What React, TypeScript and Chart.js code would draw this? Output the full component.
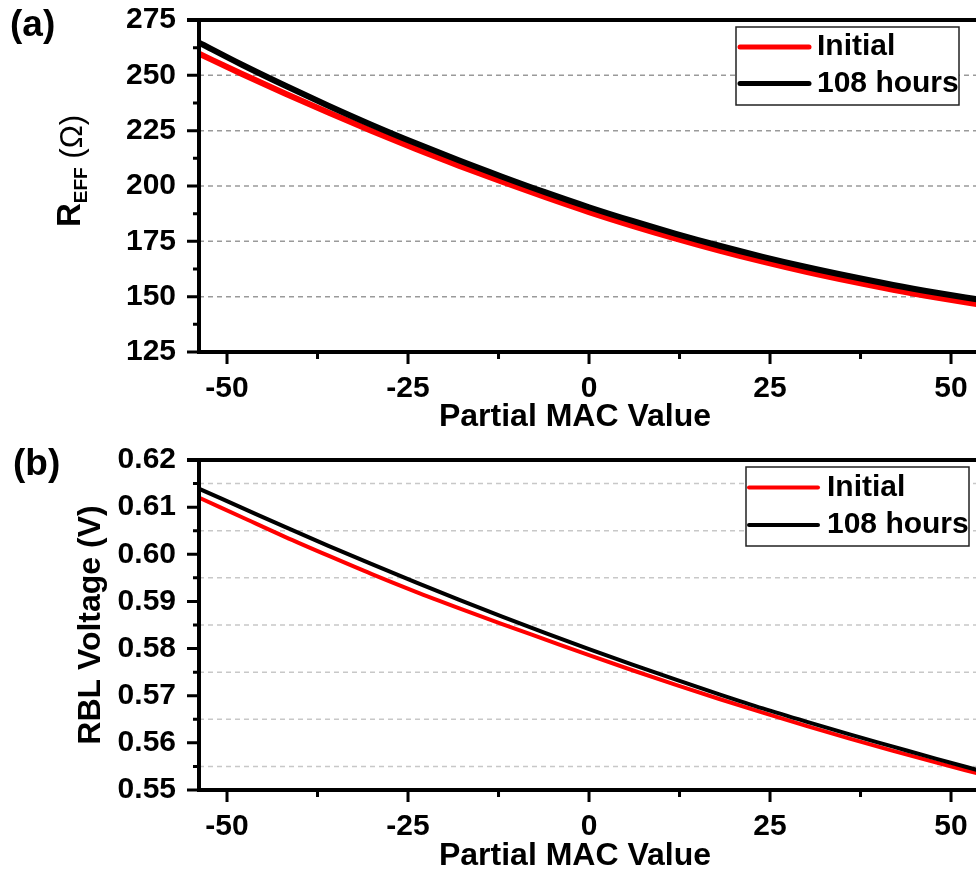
import { useEffect, useRef } from 'react';
import { Chart, registerables } from 'chart.js';

Chart.register(...registerables);

// ---- data ----
const macValues = [-54, -48, -42, -36, -30, -24, -18, -12, -6, 0, 6, 12, 18, 24, 30, 36, 42, 48, 54];
const reffInitial = [260.0, 250.7, 241.8, 233.2, 224.8, 216.8, 209.2, 201.9, 194.9, 188.2, 182.0, 176.2, 170.8, 165.8, 161.2, 157.0, 153.1, 149.6, 146.4];
const reff108 = [265.0, 254.9, 245.4, 236.3, 227.6, 219.4, 211.6, 204.2, 197.1, 190.4, 184.2, 178.4, 173.0, 168.0, 163.4, 159.2, 155.3, 151.8, 148.6];
const rblInitial = [0.6121, 0.6079, 0.6037, 0.5997, 0.5958, 0.5921, 0.5886, 0.5852, 0.5819, 0.5786, 0.5754, 0.5723, 0.5693, 0.5664, 0.5636, 0.5609, 0.5583, 0.5558, 0.5534];
const rbl108 = [0.6140, 0.6099, 0.6058, 0.6018, 0.5979, 0.5941, 0.5904, 0.5868, 0.5833, 0.5799, 0.5766, 0.5734, 0.5703, 0.5673, 0.5645, 0.5618, 0.5592, 0.5566, 0.5541];

const seriesNames = ['Initial', '108 hours'];
const seriesColors = ['#ff0000', '#000000'];

const xTicks = [-50, -25, 0, 25, 50];
const xMinorTicks = [-37.5, -12.5, 12.5, 37.5];
const reffTicks = [125, 150, 175, 200, 225, 250, 275];
const reffMinorTicks = [137.5, 162.5, 187.5, 212.5, 237.5, 262.5];
const reffGrid = [150, 175, 200, 225, 250];
const rblTicks = [0.55, 0.56, 0.57, 0.58, 0.59, 0.6, 0.61, 0.62];
const rblMinorTicks = [0.555, 0.565, 0.575, 0.585, 0.595, 0.605, 0.615];
const rblGrid = [0.555, 0.565, 0.575, 0.585, 0.595, 0.605, 0.615];

const FONT = '"Liberation Sans", Arial, sans-serif';

type Panel = {
  height: number;
  areaTop: number;
  areaBottom: number;
  xMin: number;
  xMax: number;
  yMin: number;
  yMax: number;
  yTicks: number[];
  yMinor: number[];
  yGrid: number[];
  yFmt: (v: number) => string;
  gridColor: string;
  initial: number[];
  aged: number[];
  lineWidth: number;
  legend: { x0: number; y0: number; x1: number; y1: number; lx0: number; lx1: number; ly: number[]; tx: number; lw: number };
  label: string;
  labelPos: [number, number];
  xTitleBaseline: number;
  drawYTitle: (ctx: CanvasRenderingContext2D) => void;
};

function zeroPad(s: any) {
  s.paddingLeft = 0;
  s.paddingRight = 0;
  s.paddingTop = 0;
  s.paddingBottom = 0;
}

function makeChart(canvas: HTMLCanvasElement, p: Panel) {
  const plugin = {
    id: 'frame',
    beforeDatasetsDraw(chart: any) {
      const { ctx, chartArea: a, scales } = chart;
      ctx.save();
      ctx.strokeStyle = p.gridColor;
      ctx.lineWidth = 1.5;
      ctx.setLineDash([5, 4]);
      p.yGrid.forEach((v) => {
        const py = scales.y.getPixelForValue(v);
        ctx.beginPath();
        ctx.moveTo(a.left, py);
        ctx.lineTo(a.right, py);
        ctx.stroke();
      });
      ctx.restore();
    },
    afterDatasetsDraw(chart: any) {
      const { ctx, chartArea: a, scales } = chart;
      ctx.save();
      ctx.strokeStyle = '#000';
      ctx.lineCap = 'butt';
      // axes
      ctx.lineWidth = 4;
      ctx.beginPath();
      ctx.moveTo(a.left, a.top - 2);
      ctx.lineTo(a.left, a.bottom + 2);
      ctx.moveTo(a.left - 2, a.bottom);
      ctx.lineTo(a.right, a.bottom);
      ctx.moveTo(a.left - 12, a.top);
      ctx.lineTo(a.right, a.top);
      ctx.stroke();
      // ticks
      ctx.lineWidth = 3;
      ctx.beginPath();
      p.yTicks.forEach((v) => {
        const py = scales.y.getPixelForValue(v);
        ctx.moveTo(a.left - 12, py);
        ctx.lineTo(a.left, py);
      });
      p.yMinor.forEach((v) => {
        const py = scales.y.getPixelForValue(v);
        ctx.moveTo(a.left - 6, py);
        ctx.lineTo(a.left, py);
      });
      xTicks.forEach((v) => {
        const px = scales.x.getPixelForValue(v);
        ctx.moveTo(px, a.bottom);
        ctx.lineTo(px, a.bottom + 12);
      });
      xMinorTicks.forEach((v) => {
        const px = scales.x.getPixelForValue(v);
        ctx.moveTo(px, a.bottom);
        ctx.lineTo(px, a.bottom + 7);
      });
      ctx.stroke();
      // legend
      const L = p.legend;
      ctx.fillStyle = '#fff';
      ctx.fillRect(L.x0, L.y0, L.x1 - L.x0, L.y1 - L.y0);
      ctx.lineWidth = 1.5;
      ctx.strokeStyle = '#222';
      ctx.strokeRect(L.x0, L.y0, L.x1 - L.x0, L.y1 - L.y0);
      ctx.lineCap = 'round';
      seriesNames.forEach((name, i) => {
        ctx.strokeStyle = seriesColors[i];
        ctx.lineWidth = L.lw;
        ctx.beginPath();
        ctx.moveTo(L.lx0, L.ly[i]);
        ctx.lineTo(L.lx1, L.ly[i]);
        ctx.stroke();
        ctx.fillStyle = '#000';
        ctx.font = `bold 30px ${FONT}`;
        ctx.textAlign = 'left';
        ctx.textBaseline = 'middle';
        ctx.fillText(name, L.tx, L.ly[i]);
      });
      // x title
      ctx.fillStyle = '#000';
      ctx.font = `bold 32px ${FONT}`;
      ctx.textAlign = 'center';
      ctx.textBaseline = 'alphabetic';
      ctx.fillText('Partial MAC Value', 575, p.xTitleBaseline);
      // y title
      p.drawYTitle(ctx);
      // panel label
      ctx.font = `bold 37px ${FONT}`;
      ctx.textAlign = 'left';
      ctx.textBaseline = 'alphabetic';
      ctx.fillText(p.label, p.labelPos[0], p.labelPos[1]);
      ctx.restore();
    },
  };

  const toPts = (arr: number[]) => arr.map((y, i) => ({ x: macValues[i], y }));

  return new Chart(canvas, {
    type: 'line',
    data: {
      datasets: [
        {
          label: seriesNames[1],
          data: toPts(p.aged),
          borderColor: seriesColors[1],
          borderWidth: p.lineWidth,
          pointRadius: 0,
          cubicInterpolationMode: 'monotone',
          fill: false,
        },
        {
          label: seriesNames[0],
          data: toPts(p.initial),
          borderColor: seriesColors[0],
          borderWidth: p.lineWidth,
          pointRadius: 0,
          cubicInterpolationMode: 'monotone',
          fill: false,
        },
      ],
    },
    options: {
      animation: false,
      responsive: false,
      devicePixelRatio: 1,
      layout: { padding: { top: p.areaTop, right: 0, left: 0, bottom: 0 } },
      plugins: { legend: { display: false }, title: { display: false }, tooltip: { enabled: false } },
      scales: {
        x: {
          type: 'linear',
          min: p.xMin,
          max: p.xMax,
          grid: { display: false, drawTicks: false },
          border: { display: false },
          afterBuildTicks: (s: any) => {
            s.ticks = xTicks.map((v) => ({ value: v }));
          },
          afterFit: (s: any) => {
            s.height = p.height - p.areaBottom;
            zeroPad(s);
          },
          ticks: {
            padding: 19,
            maxRotation: 0,
            autoSkip: false,
            color: '#000',
            font: { family: FONT, size: 30, weight: 'bold' },
            callback: (v: any) => String(v),
          },
        },
        y: {
          type: 'linear',
          min: p.yMin,
          max: p.yMax,
          grid: { display: false, drawTicks: false },
          border: { display: false },
          afterBuildTicks: (s: any) => {
            s.ticks = p.yTicks.map((v) => ({ value: v }));
          },
          afterFit: (s: any) => {
            s.width = 199;
            zeroPad(s);
          },
          ticks: {
            padding: 23,
            autoSkip: false,
            color: '#000',
            font: { family: FONT, size: 30, weight: 'bold' },
            callback: (v: any) => p.yFmt(Number(v)),
          },
        },
      },
    } as any,
    plugins: [plugin],
  });
}

const panelA: Panel = {
  height: 435,
  areaTop: 20,
  areaBottom: 352,
  xMin: -53.87,
  xMax: 53.45,
  yMin: 125,
  yMax: 275,
  yTicks: reffTicks,
  yMinor: reffMinorTicks,
  yGrid: reffGrid,
  yFmt: (v) => String(Math.round(v)),
  gridColor: '#9a9a9a',
  initial: reffInitial,
  aged: reff108,
  lineWidth: 6,
  legend: { x0: 736, y0: 27, x1: 959, y1: 105, lx0: 740, lx1: 809, ly: [47, 83.5], tx: 817, lw: 5 },
  label: '(a)',
  labelPos: [10, 36],
  xTitleBaseline: 426,
  drawYTitle: (ctx) => {
    ctx.save();
    ctx.translate(80, 227);
    ctx.rotate(-Math.PI / 2);
    ctx.fillStyle = '#000';
    ctx.textAlign = 'left';
    ctx.textBaseline = 'alphabetic';
    ctx.font = `bold 33px ${FONT}`;
    ctx.fillText('R', 0, 0);
    let x = ctx.measureText('R').width;
    ctx.font = `bold 19px ${FONT}`;
    ctx.fillText('EFF', x, 7);
    x += ctx.measureText('EFF').width;
    ctx.font = `31px ${FONT}`;
    ctx.fillText(' (Ω)', x, 2);
    ctx.restore();
  },
};

const panelB: Panel = {
  height: 439,
  areaTop: 25,
  areaBottom: 355,
  xMin: -53.87,
  xMax: 53.45,
  yMin: 0.55,
  yMax: 0.62,
  yTicks: rblTicks,
  yMinor: rblMinorTicks,
  yGrid: rblGrid,
  yFmt: (v) => v.toFixed(2),
  gridColor: '#c8c8c8',
  initial: rblInitial,
  aged: rbl108,
  lineWidth: 4,
  legend: { x0: 746, y0: 32, x1: 969, y1: 111, lx0: 749, lx1: 818, ly: [52.5, 90], tx: 827, lw: 4 },
  label: '(b)',
  labelPos: [13, 40],
  xTitleBaseline: 430,
  drawYTitle: (ctx) => {
    ctx.save();
    ctx.translate(100, 190);
    ctx.rotate(-Math.PI / 2);
    ctx.fillStyle = '#000';
    ctx.textAlign = 'center';
    ctx.textBaseline = 'alphabetic';
    ctx.font = `bold 32px ${FONT}`;
    ctx.fillText('RBL Voltage (V)', 0, 0);
    ctx.restore();
  },
};

function PanelChart({ panel, top }: { panel: Panel; top: number }) {
  const ref = useRef<HTMLCanvasElement | null>(null);
  useEffect(() => {
    if (!ref.current) return;
    const chart = makeChart(ref.current, panel);
    return () => chart.destroy();
  }, [panel]);
  return (
    <canvas
      ref={ref}
      width={976}
      height={panel.height}
      style={{ position: 'absolute', left: 0, top, width: 976, height: panel.height, display: 'block' }}
    />
  );
}

export default function App() {
  return (
    <div style={{ position: 'absolute', left: 0, top: 0, width: 976, height: 874, background: '#fff', overflow: 'hidden' }}>
      <PanelChart panel={panelA} top={0} />
      <PanelChart panel={panelB} top={435} />
    </div>
  );
}
